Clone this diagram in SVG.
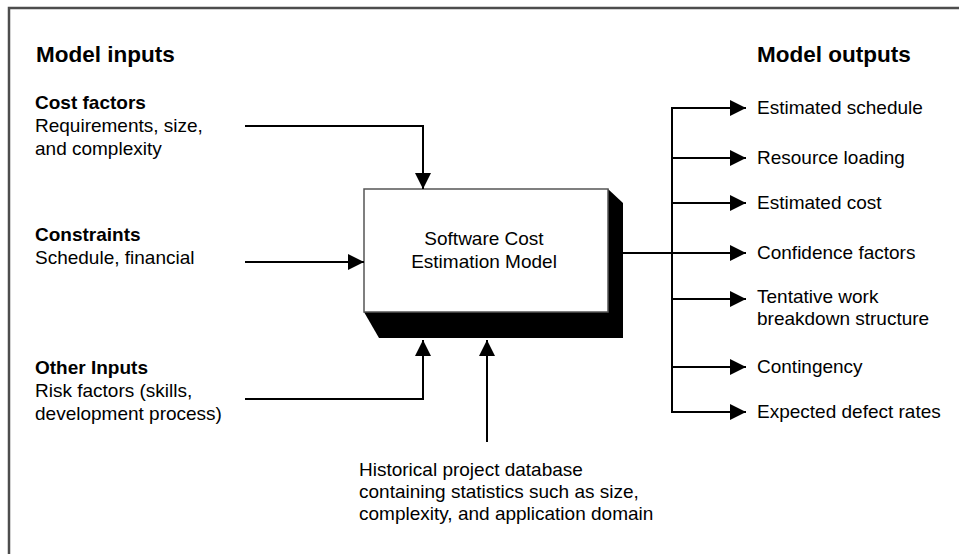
<svg xmlns="http://www.w3.org/2000/svg" width="959" height="554" viewBox="0 0 959 554">
<style>
text{font-family:"Liberation Sans",Arial,sans-serif;fill:#000}
.t{font-size:22.5px;font-weight:bold}
.h{font-size:19px;font-weight:bold}
.b{font-size:19px}
.c{font-size:19px;text-anchor:middle}
.ln{fill:none;stroke:#000;stroke-width:2}
.arr{marker-end:url(#ah)}
</style>
<defs>
<marker id="ah" markerUnits="userSpaceOnUse" markerWidth="16" markerHeight="16" refX="16" refY="8" orient="auto">
<path d="M0,0 L16,8 L0,16 z" fill="#000"/>
</marker>
</defs>
<rect width="959" height="554" fill="#fff"/>
<path d="M9,554 V8 H959" fill="none" stroke="#4d4d4d" stroke-width="2.5"/>
<g id="titles">
<text class="t" x="36" y="62">Model inputs</text>
<text class="t" x="757" y="62">Model outputs</text>
</g>
<g id="cost-factors">
<text class="h" x="35" y="109">Cost factors</text>
<text class="b" x="35" y="132">Requirements, size,</text>
<text class="b" x="35" y="155">and complexity</text>
</g>
<g id="constraints">
<text class="h" x="35" y="241">Constraints</text>
<text class="b" x="35" y="264">Schedule, financial</text>
</g>
<g id="other-inputs">
<text class="h" x="35" y="374">Other Inputs</text>
<text class="b" x="35" y="397">Risk factors (skills,</text>
<text class="b" x="35" y="420">development process)</text>
</g>
<g id="historical">
<text class="b" x="359" y="476">Historical project database</text>
<text class="b" x="359" y="498">containing statistics such as size,</text>
<text class="b" x="359" y="520">complexity, and application domain</text>
</g>
<g id="model">
<polygon points="608,189 623,203 623,338 379,338 364,312" fill="#000"/>
<rect x="364" y="189" width="244" height="123" fill="#fff" stroke="#555" stroke-width="1.5"/>
<text class="c" x="484" y="245">Software Cost</text>
<text class="c" x="484" y="268">Estimation Model</text>
</g>
<g id="outputs">
<text class="b" x="757" y="114">Estimated schedule</text>
<text class="b" x="757" y="164">Resource loading</text>
<text class="b" x="757" y="209">Estimated cost</text>
<text class="b" x="757" y="259">Confidence factors</text>
<text class="b" x="757" y="303">Tentative work</text>
<text class="b" x="757" y="325">breakdown structure</text>
<text class="b" x="757" y="373">Contingency</text>
<text class="b" x="757" y="418">Expected defect rates</text>
</g>
<g id="connectors">
<polyline class="ln arr" points="245,126 423,126 423,189"/>
<line class="ln arr" x1="245" y1="262" x2="364" y2="262"/>
<polyline class="ln arr" points="245,399 423,399 423,340"/>
<line class="ln arr" x1="487" y1="442" x2="487" y2="340"/>
<line class="ln" x1="623" y1="253" x2="672" y2="253"/>
<line class="ln" x1="672" y1="107" x2="672" y2="413"/>
<line class="ln arr" x1="671" y1="108" x2="746" y2="108"/>
<line class="ln arr" x1="672" y1="158" x2="746" y2="158"/>
<line class="ln arr" x1="672" y1="203" x2="746" y2="203"/>
<line class="ln arr" x1="672" y1="253" x2="746" y2="253"/>
<line class="ln arr" x1="672" y1="299" x2="746" y2="299"/>
<line class="ln arr" x1="672" y1="367" x2="746" y2="367"/>
<line class="ln arr" x1="671" y1="412" x2="746" y2="412"/>
</g>
</svg>
